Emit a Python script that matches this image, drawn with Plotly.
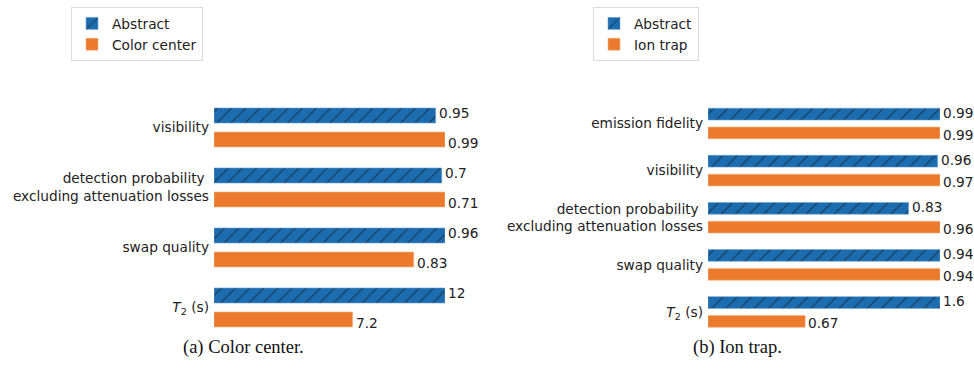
import plotly.graph_objects as go

# ---------------- data ----------------
cc_categories = ["visibility",
                 "detection probability <br>excluding attenuation losses",
                 "swap quality",
                 "<i>T</i><sub>2</sub> (s)"]
cc_abstract = [0.95, 0.7, 0.96, 12]
cc_platform = [0.99, 0.71, 0.83, 7.2]

it_categories = ["emission fidelity",
                 "visibility",
                 "detection probability <br>excluding attenuation losses",
                 "swap quality",
                 "<i>T</i><sub>2</sub> (s)"]
it_abstract = [0.99, 0.96, 0.83, 0.94, 1.6]
it_platform = [0.99, 0.97, 0.96, 0.94, 0.67]

legend_left = ["Abstract", "Color center"]
legend_right = ["Abstract", "Ion trap"]
captions = ["(a) Color center.", "(b) Ion trap."]

# ---------------- style ----------------
W, H = 974, 366
BLUE = "#1c6db0"
ORANGE = "#eb7a2d"
FONT = "DejaVu Sans"
FS = 13.7
TXT = "#222222"

fig = go.Figure()


def px_x(p):
    return p / W


def px_y(p):
    return 1 - p / H


def add_panel(cats, abst, plat, xa, ya, leg, names, shifts):
    n = len(cats)
    pos = list(range(n))
    na = [a / max(a, b) for a, b in zip(abst, plat)]
    npl = [b / max(a, b) for a, b in zip(abst, plat)]
    fig.add_trace(go.Bar(
        orientation="h", x=na, y=[p - 0.2 for p in pos], width=0.25,
        name=names[0], legend=leg, xaxis=xa, yaxis=ya,
        marker=dict(color=BLUE, line=dict(color="#6fa3d0", width=0.6),
                    pattern=dict(shape="/", fgcolor="#111111", size=10,
                                 solidity=0.13)),
        hoverinfo="skip"))
    fig.add_trace(go.Bar(
        orientation="h", x=npl, y=[p + 0.2 for p in pos], width=0.25,
        name=names[1], legend=leg, xaxis=xa, yaxis=ya,
        marker=dict(color=ORANGE, line=dict(color="#f3b27f", width=0.6)),
        hoverinfo="skip"))
    axref = "x" if xa == "x" else "x2"
    ayref = "y" if ya == "y" else "y2"
    for p, a, b, v1, v2 in zip(pos, na, npl, abst, plat):
        fig.add_annotation(x=a, y=p - 0.2, xref=axref, yref=ayref,
                           text=f"{v1:g}", showarrow=False, xanchor="left",
                           yanchor="middle", xshift=1, yshift=shifts[0],
                           font=dict(family=FONT, size=FS, color=TXT))
        fig.add_annotation(x=b, y=p + 0.2, xref=axref, yref=ayref,
                           text=f"{v2:g}", showarrow=False, xanchor="left",
                           yanchor="middle", xshift=1, yshift=shifts[1],
                           font=dict(family=FONT, size=FS, color=TXT))
    return pos


pos_l = add_panel(cc_categories, cc_abstract, cc_platform, "x", "y",
                  "legend", legend_left, (3, -3))
pos_r = add_panel(it_categories, it_abstract, it_platform, "x2", "y2",
                  "legend2", legend_right, (1.5, -2))

axis_common = dict(showgrid=False, zeroline=False, showline=False,
                   ticks="", fixedrange=True)

fig.update_layout(
    width=W, height=H,
    margin=dict(l=0, r=0, t=0, b=0),
    paper_bgcolor="white", plot_bgcolor="white",
    barmode="overlay",
    font=dict(family=FONT, size=FS, color=TXT),
    xaxis=dict(domain=[px_x(214), px_x(445)], range=[0, 1],
               showticklabels=False, **axis_common),
    yaxis=dict(domain=[px_y(337.5), px_y(97.5)], range=[3.5, -0.5],
               tickvals=pos_l, ticktext=cc_categories, anchor="x",
               ticklabelstandoff=4, **axis_common),
    xaxis2=dict(domain=[px_x(708), px_x(940)], range=[0, 1],
                showticklabels=False, anchor="y2", **axis_common),
    yaxis2=dict(domain=[px_y(335.5), px_y(100)], range=[4.5, -0.5],
                tickvals=pos_r, ticktext=it_categories, anchor="x2",
                ticklabelstandoff=4, **axis_common),
    legend=dict(x=px_x(71), y=px_y(7), xanchor="left", yanchor="top",
                bordercolor="#dddddd", borderwidth=1, bgcolor="white",
                font=dict(family=FONT, size=FS, color=TXT),
                tracegroupgap=0, itemwidth=30),
    legend2=dict(x=px_x(593), y=px_y(7), xanchor="left", yanchor="top",
                 bordercolor="#dddddd", borderwidth=1, bgcolor="white",
                 font=dict(family=FONT, size=FS, color=TXT),
                 tracegroupgap=0, itemwidth=30),
    showlegend=True,
)

for cap, cx in zip(captions, [243, 737]):
    fig.add_annotation(x=px_x(cx), y=px_y(347), xref="paper", yref="paper",
                       text=cap, showarrow=False, xanchor="center",
                       yanchor="middle",
                       font=dict(family="Liberation Serif", size=18.5,
                                 color="#111111"))

fig.write_html("out.html")
